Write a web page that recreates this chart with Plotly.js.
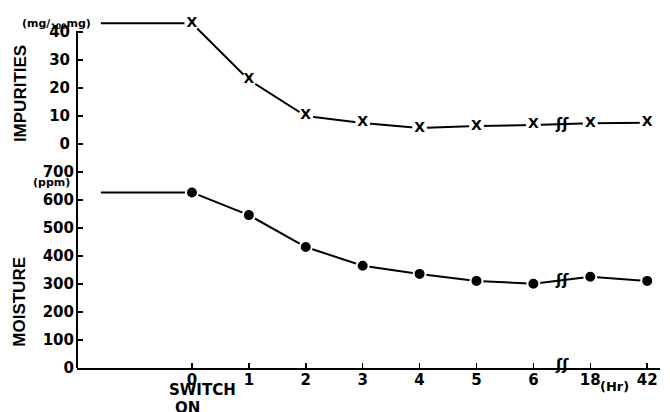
<!DOCTYPE html>
<html>
<head>
<meta charset="utf-8">
<script src="https://cdn.plot.ly/plotly-3.0.1.min.js"></script>
<style>html,body{margin:0;padding:0;background:#fff;}#chart{width:670px;height:412px;}</style>
</head>
<body>
<div id="chart"></div>
<script>
// ---- data ----
const hourLabels = ['0', '1', '2', '3', '4', '5', '6', '18', '42'];
const impurities = [43.1, 22.9, 10.0, 7.5, 5.7, 6.4, 6.8, 7.4, 7.6];      // mg/100mg
const moisture   = [627, 546, 432, 365, 336, 311, 301, 326, 311];         // ppm
const preSwitchHour = -1.6;   // steady-state level shown before switch-on
const moistureTicks = [0, 100, 200, 300, 400, 500, 600, 700];
const impurityTicks = [0, 10, 20, 30, 40];

// ---- build ----
const idx = hourLabels.map((_, i) => i);
const numFont = {family: 'DejaVu Sans', size: 15, color: '#000', weight: 'bold'};
const black = '#000';

const traces = [
  {x: [preSwitchHour, 0], y: [moisture[0], moisture[0]], yaxis: 'y', mode: 'lines',
   line: {color: black, width: 2}, hoverinfo: 'skip'},
  {x: idx, y: moisture, yaxis: 'y', mode: 'lines+markers',
   line: {color: black, width: 2},
   marker: {symbol: 'circle', size: 12, color: black, line: {color: '#fff', width: 2}}},
  {x: [preSwitchHour, 0], y: [impurities[0], impurities[0]], yaxis: 'y2', mode: 'lines',
   line: {color: black, width: 2}, hoverinfo: 'skip'},
  {x: idx, y: impurities, yaxis: 'y2', mode: 'lines+markers+text',
   line: {color: black, width: 2},
   marker: {symbol: 'circle', size: 15, color: '#fff'},
   text: idx.map(() => 'X'), textposition: 'middle center',
   textfont: {family: 'DejaVu Sans', size: 14, color: black, weight: 'bold'}, cliponaxis: false}
];

const breakX = 6.5;
const ann = (o) => Object.assign({showarrow: false, xanchor: 'center', yanchor: 'middle'}, o);
const annotations = [
  ann({xref: 'paper', yref: 'paper', x: -0.098, y: 0.189, text: 'MOISTURE', textangle: -90,
   font: {family: 'Liberation Sans', size: 17, color: black, weight: 'bold'}}),
  ann({xref: 'paper', yref: 'paper', x: -0.098, y: 0.785, text: 'IMPURITIES', textangle: -90,
   font: {family: 'Liberation Sans', size: 17, color: black, weight: 'bold'}}),
  ann({xref: 'paper', yref: 'paper', x: -0.036, y: 0.983, text: '(mg/<sub>100</sub>mg)',
   font: {family: 'DejaVu Sans', size: 11, color: black, weight: 'bold'}}),
  ann({xref: 'paper', yref: 'paper', x: -0.043, y: 0.529, text: '(ppm)',
   font: {family: 'DejaVu Sans', size: 11, color: black, weight: 'bold'}}),
  ann({xref: 'x', yref: 'paper', x: 0.18, y: -0.064, text: 'SWITCH',
   font: {family: 'DejaVu Sans', size: 15, color: black, weight: 'bold'}}),
  ann({xref: 'x', yref: 'paper', x: -0.07, y: -0.114, text: 'ON',
   font: {family: 'DejaVu Sans', size: 15, color: black, weight: 'bold'}}),
  ann({xref: 'x', yref: 'paper', x: 7.42, y: -0.052, text: '(Hr)',
   font: {family: 'DejaVu Sans', size: 13, color: black, weight: 'bold'}}),
  ann({xref: 'x', yref: 'y2', x: breakX, y: (impurities[6] + impurities[7]) / 2, text: 'ʃʃ',
   font: {family: 'DejaVu Sans', size: 15, color: black, weight: 'bold'}}),
  ann({xref: 'x', yref: 'y', x: breakX, y: (moisture[6] + moisture[7]) / 2, text: 'ʃʃ',
   font: {family: 'DejaVu Sans', size: 15, color: black, weight: 'bold'}}),
  ann({xref: 'x', yref: 'y', x: breakX, y: 0, text: 'ʃʃ', yshift: 3,
   font: {family: 'DejaVu Sans', size: 15, color: black, weight: 'bold'}})
];

const layout = {
  width: 670, height: 412,
  margin: {l: 77, r: 10, t: 18, b: 44},
  paper_bgcolor: '#fff', plot_bgcolor: '#fff',
  showlegend: false,
  xaxis: {
    range: [-2.02, 8.225], tickvals: idx, ticktext: hourLabels,
    showline: true, linecolor: black, linewidth: 2, ticks: 'inside', ticklen: 5, tickwidth: 1.5, tickcolor: black,
    showgrid: false, zeroline: false, tickfont: numFont, anchor: 'y', ticklabelstandoff: -3
  },
  yaxis: {
    domain: [0, 0.5686], range: [0, 710.7], tickvals: moistureTicks,
    ticks: 'inside', ticklen: 6, tickwidth: 1.5, tickcolor: black,
    showline: false, showgrid: false, zeroline: false, tickfont: numFont, anchor: 'x', ticklabelstandoff: 2
  },
  yaxis2: {
    domain: [0.5686, 1], range: [-8.93, 45], tickvals: impurityTicks,
    ticks: 'inside', ticklen: 6, tickwidth: 1.5, tickcolor: black,
    showline: false, showgrid: false, zeroline: false, tickfont: numFont, anchor: 'x', ticklabelstandoff: 6
  },
  shapes: [
    {type: 'line', xref: 'paper', yref: 'paper', x0: 0, x1: 0, y0: 0, y1: 0.963,
     line: {color: black, width: 2}}
  ],
  annotations: annotations
};

Plotly.newPlot('chart', traces, layout, {displayModeBar: false, staticPlot: true});
</script>
</body>
</html>
